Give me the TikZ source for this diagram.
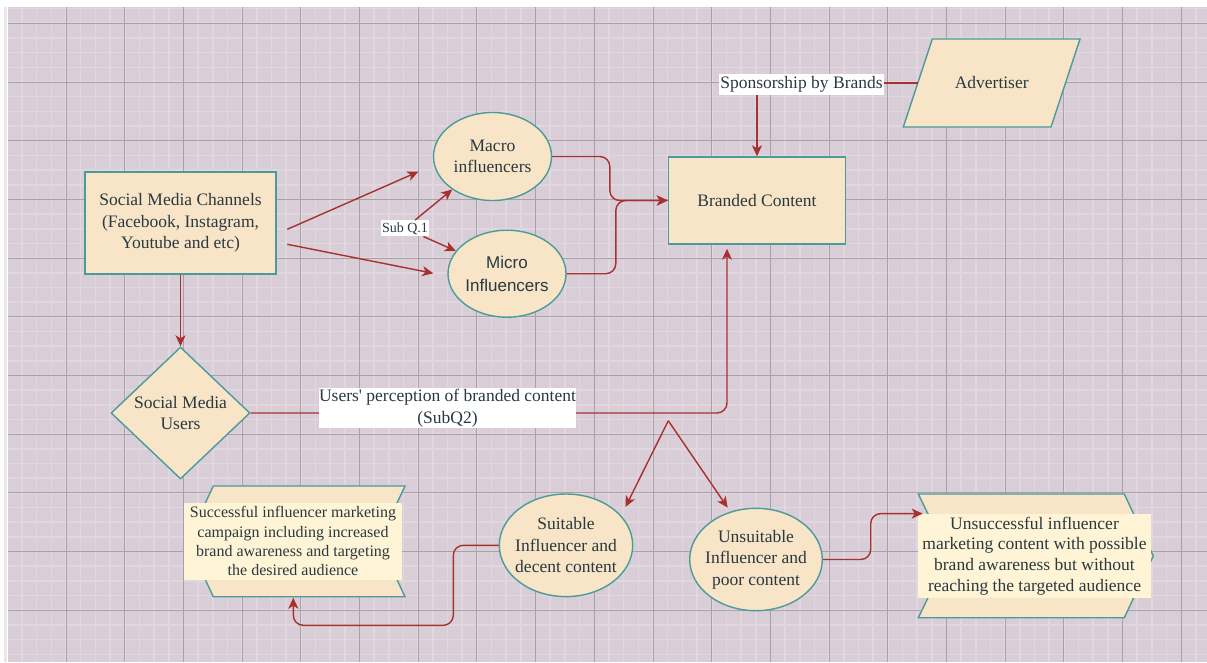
\documentclass[tikz,border=0pt]{standalone}
\usepackage{fontspec}
\setmainfont{Liberation Serif}
\newfontfamily\sansf{Liberation Sans}
\usetikzlibrary{shapes.geometric,arrows.meta,calc}
\definecolor{bgc}{HTML}{D9CED8}
\definecolor{minorc}{HTML}{E1D7DF}
\definecolor{majorc}{HTML}{A9A1AA}
\definecolor{fillc}{HTML}{F8E4C7}
\definecolor{edgec}{HTML}{4A9C98}
\definecolor{arrc}{HTML}{A8302F}
\definecolor{txtc}{HTML}{2A3940}
\definecolor{lblc}{HTML}{FFF4D5}
\begin{document}
\begin{tikzpicture}[x=1pt,y=-1pt,
  shapebox/.style={draw=edgec, fill=fillc, line width=1.4pt, inner sep=0},
  txt/.style={align=center, text=txtc, font=\fontsize{17.5}{21.5}\selectfont, inner sep=0},
  rectbox/.style={shapebox, rectangle},
  ellbox/.style={shapebox, ellipse},
  arr/.style={draw=arrc, line width=1.4pt, -{Stealth[length=11pt,width=10pt,inset=3pt]}},
  whitelbl/.style={txt, fill=white, inner xsep=1pt, inner ysep=1.5pt},
  steplbl/.style={txt, fill=lblc}]
\useasboundingbox (0,0) rectangle (1207,662);
\fill[white] (0,0) rectangle (1207,662);
\fill[bgc] (8,7) rectangle (1207,662);
\draw[black!9, line width=3pt] (5,7) -- (5,662);
\begin{scope}
\clip (8,7) rectangle (1207,662);
\foreach \i in {0,...,82} \draw[minorc, line width=1.6pt] ({7.3+14.675*\i},7) -- ({7.3+14.675*\i},662);
\foreach \j in {0,...,45} \draw[minorc, line width=1.6pt] (8,{8.6+14.675*\j}) -- (1207,{8.6+14.675*\j});
\foreach \i in {0,...,20} \draw[majorc, line width=1pt] ({7.3+58.7*\i},7) -- ({7.3+58.7*\i},662);
\foreach \j in {0,...,11} \draw[majorc, line width=1pt] (8,{23.3+58.7*\j}) -- (1207,{23.3+58.7*\j});
\end{scope}

% shapes
\node[rectbox, txt, draw=edgec, fill=fillc, minimum width=191, minimum height=102] (channels) at (180.5,223) {Social Media Channels\\(Facebook, Instagram,\\Youtube and etc)};
\node[ellbox, minimum width=118, minimum height=88] (macro) at (492.5,156.5) {};
\node[txt] (macroT) at (macro) {Macro\\influencers};
\node[ellbox, minimum width=118, minimum height=87] (micro) at (507,273.7) {};
\node[txt, font=\sansf\fontsize{17}{23}\selectfont] (microT) at (micro) {Micro\\Influencers};
\node[rectbox, txt, draw=edgec, fill=fillc, minimum width=177, minimum height=87] (branded) at (757,200.5) {Branded Content};
\draw[shapebox] (903.3,127) -- (932.3,39) -- (1080,39) -- (1051,127) -- cycle;
\node[txt] (advertiser) at (991.7,83) {Advertiser};
\coordinate (advL) at (918,83);
\node[diamond, shapebox, minimum width=139, minimum height=132] (users) at (180.5,413) {};
\node[txt] (usersT) at (users) {Social Media\\Users};
\node[ellbox, minimum width=133.4, minimum height=102.6] (suitable) at (566,545.3) {};
\node[txt] (suitableT) at (suitable) {Suitable\\Influencer and\\decent content};
\node[ellbox, minimum width=132.6, minimum height=102.4] (unsuitable) at (756,559.5) {};
\node[txt] (unsuitableT) at (unsuitable) {Unsuitable\\Influencer and\\poor content};
% step shapes
\draw[shapebox] (213.3,486) -- (405,486) -- (379,541.3) -- (405,596.7) -- (213.3,596.7) -- (187.3,541.3) -- cycle;
\node[steplbl, font=\fontsize{16}{19.3}\selectfont, minimum width=217.4, minimum height=77.3] (successT) at (293,541.3) {Successful influencer marketing\\campaign including increased\\brand awareness and targeting\\the desired audience};
\coordinate (succB) at (293.3,597.7);
\draw[shapebox] (918.3,494) -- (1124.3,494) -- (1153.3,556) -- (1124.3,617.7) -- (918.3,617.7) -- (948.3,556) -- cycle;
\node[steplbl, font=\fontsize{17.5}{20.8}\selectfont, minimum width=232.4, minimum height=83.4] (unsuccT) at (1034.5,556) {Unsuccessful influencer\\marketing content with possible\\brand awareness but without\\reaching the targeted audience};
\coordinate (unsuccL) at (922.7,513.6);

% Sub Q.1 label
\node[whitelbl, font=\fontsize{14}{16}\selectfont, inner ysep=2pt] (subq) at (405,228.3) {Sub Q.1};

% connectors
\coordinate (c1s) at (287.3,229.3);
\coordinate (c1e) at (418.3,171.7);
\coordinate (c2s) at (287.3,244.3);
\coordinate (c2e) at (433.3,273.3);
\draw[arr] (channels.south) -- (users.north);
\draw[arr] (c1s) -- (c1e);
\draw[arr] (c2s) -- (c2e);
\draw[arr] (subq) -- (macro);
\draw[arr] (subq) -- (micro);
\draw[arr, rounded corners=10pt] (macro.east) -| ([xshift=-58pt]branded.west) -- (branded.west);
\draw[arr, rounded corners=10pt] (micro.east) -| ([xshift=-52pt]branded.west) -- (branded.west);
\draw[arr] (advL) -| (branded.north);
\draw[arr, rounded corners=10pt] (users.east) -| ([xshift=-30pt,yshift=-4pt]branded.south);
\coordinate (split) at (668.3,420.7);
\coordinate (sL) at (625.5,507);
\coordinate (sR) at (727.7,507.7);
\draw[arr] (split) -- (sL);
\draw[arr] (split) -- (sR);
\draw[arr, rounded corners=10pt] (suitable.west) -| (453.3,625.3) -| (succB);
\draw[arr, rounded corners=10pt] (unsuitable.east) -| ([xshift=-52pt]unsuccL) -- (unsuccL);

% edge labels
\node[whitelbl, minimum height=21] (sponsor) at (801.5,84.5) {Sponsorship by Brands};
\node[whitelbl, font=\fontsize{17.5}{22}\selectfont, inner xsep=0.5pt, inner ysep=1pt] (perception) at (447.5,408) {Users\textquotesingle{} perception of branded content\\(SubQ2)};
\end{tikzpicture}
\end{document}
